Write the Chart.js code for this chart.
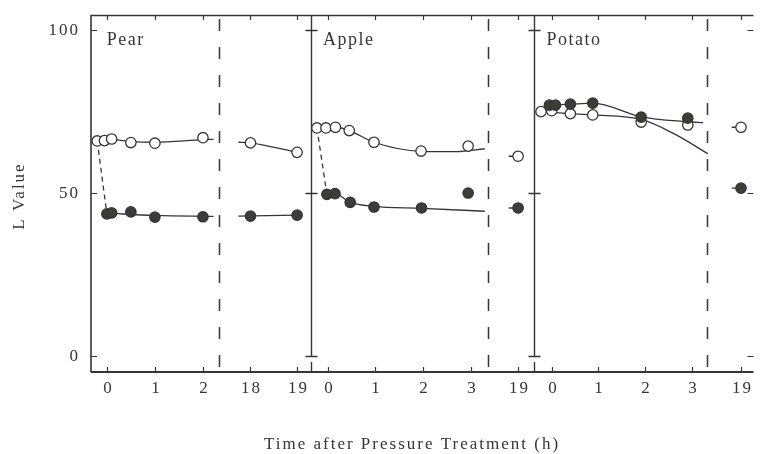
<!DOCTYPE html>
<html>
<head>
<meta charset="utf-8">
<script src="https://cdn.jsdelivr.net/npm/chart.js@4.4.1/dist/chart.umd.min.js"></script>
<style>
  body { margin: 0; background: #fff; }
  canvas { display: block; }
</style>
</head>
<body>
<canvas id="chart" width="760" height="454"></canvas>
<script>
// panels and their x tick hours
const panelNames = ["Pear", "Apple", "Potato"];
const pearTickHours = [0, 1, 2, 18, 19];
const appleTickHours = [0, 1, 2, 3, 19];
const potatoTickHours = [0, 1, 2, 3, 19];
const yTickValues = [0, 50, 100];

// Pear
const pearOpenT = [-0.2, -0.05, 0.1, 0.5, 1, 2, 18, 19];
const pearOpenL = [66.0, 66.1, 66.6, 65.5, 65.3, 67.0, 65.4, 62.5];
const pearFilledT = [0.0, 0.1, 0.5, 1, 2, 18, 19];
const pearFilledL = [43.6, 43.9, 44.2, 42.6, 42.7, 42.9, 43.2];
const pearOpenFitT = [-0.2, 0.1, 0.5, 1, 2, 2.22];
const pearOpenFitL = [66.0, 66.4, 65.8, 65.6, 66.4, 66.5];
const pearOpenLateFitT = [17.74, 18, 19];
const pearOpenLateFitL = [65.6, 65.4, 62.5];
const pearFilledFitT = [0.0, 1, 2.22];
const pearFilledFitL = [43.8, 43.1, 42.8];
const pearFilledLateFitT = [17.74, 19];
const pearFilledLateFitL = [42.9, 43.2];

// Apple
const appleOpenT = [-0.23, -0.04, 0.16, 0.45, 0.97, 1.96, 2.95, 19];
const appleOpenL = [70.0, 70.0, 70.2, 69.2, 65.6, 62.9, 64.4, 61.3];
const appleFilledT = [-0.02, 0.15, 0.47, 0.97, 1.97, 2.95, 19];
const appleFilledL = [49.6, 49.8, 47.1, 45.7, 45.4, 50.0, 45.4];
const appleOpenFitT = [-0.23, 0.16, 0.45, 0.97, 1.96, 2.7, 3.3];
const appleOpenFitL = [70.0, 70.2, 69.2, 65.6, 62.8, 62.7, 63.6];
const appleFilledFitT = [-0.02, 0.15, 0.47, 0.97, 1.97, 3.3];
const appleFilledFitL = [49.6, 49.8, 47.1, 45.9, 45.3, 44.4];

// Potato
const potatoOpenT = [-0.23, 0.0, 0.4, 0.88, 1.92, 2.92, 19];
const potatoOpenL = [75.0, 75.3, 74.4, 74.0, 71.8, 70.9, 70.2];
const potatoFilledT = [-0.05, 0.08, 0.4, 0.88, 1.92, 2.92, 19];
const potatoFilledL = [77.0, 77.0, 77.3, 77.6, 73.3, 73.0, 51.5];
const potatoOpenFitT = [-0.23, 0.4, 0.88, 1.92, 2.6, 3.35];
const potatoOpenFitL = [75.0, 74.4, 74.0, 72.6, 68.4, 62.1];
const potatoFilledFitT = [-0.05, 0.4, 0.88, 1.92, 2.92, 3.25];
const potatoFilledFitL = [77.0, 77.3, 77.6, 73.4, 71.9, 71.6];

// broken time axis: where 0 h and 19 h of each panel sit on the axis
const hourStart = [0, 4.6, 9.26];
const hourStep = [1, 0.99, 0.97];
const lateAt19 = [3.96, 8.56, 13.2];
const panelDividers = [4.25, 8.9];
const breakLines = [2.33, 7.94, 12.5];

function pos(p, t) {
  return t > 10 ? lateAt19[p] + (t - 19) * 0.97 : hourStart[p] + t * hourStep[p];
}
function pts(p, ts, ls) {
  return ts.map((t, i) => ({ x: pos(p, t), y: ls[i] }));
}

const ink = "#353532";
const dotFill = "#3b3d36";

function markers(p, ts, ls, filled) {
  return {
    data: pts(p, ts, ls),
    showLine: false,
    pointRadius: 5.2,
    pointBackgroundColor: filled ? dotFill : "#ffffff",
    pointBorderColor: ink,
    pointBorderWidth: 1.3,
    order: filled ? 0 : 1,
  };
}
function curve(p, ts, ls, dashed) {
  return {
    data: pts(p, ts, ls),
    showLine: true,
    pointRadius: 0,
    borderColor: ink,
    borderWidth: 1.3,
    borderDash: dashed ? [5, 4] : [],
    cubicInterpolationMode: "monotone",
    order: 2,
  };
}

const datasets = [
  markers(0, pearFilledT, pearFilledL, true),
  markers(1, appleFilledT, appleFilledL, true),
  markers(2, potatoFilledT, potatoFilledL, true),
  markers(0, pearOpenT, pearOpenL, false),
  markers(1, appleOpenT, appleOpenL, false),
  markers(2, potatoOpenT, potatoOpenL, false),
  curve(0, pearOpenFitT, pearOpenFitL),
  curve(0, pearOpenLateFitT, pearOpenLateFitL),
  curve(0, pearFilledFitT, pearFilledFitL),
  curve(0, pearFilledLateFitT, pearFilledLateFitL),
  curve(0, [pearOpenT[0], pearFilledT[0]], [pearOpenL[0], pearFilledL[0]], true),
  curve(1, appleOpenFitT, appleOpenFitL),
  curve(1, appleFilledFitT, appleFilledFitL),
  curve(1, [appleOpenT[0], appleFilledT[0]], [appleOpenL[0], appleFilledL[0]], true),
  curve(1, [18.8, 19], [61.3, 61.3]),
  curve(1, [18.8, 19], [45.4, 45.4]),
  curve(2, potatoOpenFitT, potatoOpenFitL),
  curve(2, potatoFilledFitT, potatoFilledFitL),
  curve(2, [18.8, 19], [70.2, 70.2]),
  curve(2, [18.8, 19], [51.5, 51.5]),
];

const tickHours = [pearTickHours, appleTickHours, potatoTickHours];

const framePlugin = {
  id: "frame",
  beforeDatasetsDraw(chart) {
    const { ctx, chartArea: a, scales: { x, y } } = chart;
    ctx.save();
    ctx.strokeStyle = ink;
    ctx.fillStyle = ink;

    // frame
    ctx.lineWidth = 1.6;
    ctx.beginPath();
    ctx.moveTo(a.right, a.top + 0.5); ctx.lineTo(a.left, a.top + 0.5);
    ctx.lineTo(a.left, a.bottom);
    ctx.stroke();
    ctx.lineWidth = 2;
    ctx.beginPath();
    ctx.moveTo(a.left, a.bottom); ctx.lineTo(a.right, a.bottom);
    ctx.stroke();

    // x ticks and labels
    ctx.lineWidth = 1.2;
    ctx.font = "17px 'Liberation Serif'";
    ctx.letterSpacing = "2px";
    ctx.textAlign = "center";
    ctx.textBaseline = "middle";
    tickHours.forEach((hours, p) => {
      hours.forEach(h => {
        const px = Math.round(x.getPixelForValue(pos(p, h))) + 0.5;
        ctx.beginPath();
        ctx.moveTo(px, a.bottom); ctx.lineTo(px, a.bottom - 5);
        ctx.moveTo(px, a.top); ctx.lineTo(px, a.top + 5);
        ctx.stroke();
        ctx.fillText(String(h), px + 1, a.bottom + 17);
      });
    });

    // y ticks and labels
    ctx.textAlign = "right";
    yTickValues.forEach(v => {
      const py = Math.round(y.getPixelForValue(v)) + 0.5;
      ctx.beginPath();
      ctx.moveTo(a.left, py); ctx.lineTo(a.left + 6, py);
      ctx.moveTo(a.right, py); ctx.lineTo(a.right - 6, py);
      ctx.stroke();
      ctx.fillText(String(v), a.left - 11, py);
    });

    // panel dividers with their own value ticks
    ctx.lineWidth = 1.4;
    panelDividers.forEach(d => {
      const px = Math.round(x.getPixelForValue(d)) + 0.5;
      ctx.beginPath();
      ctx.moveTo(px, a.top); ctx.lineTo(px, y.getPixelForValue(0));
      ctx.moveTo(px, a.bottom); ctx.lineTo(px, a.bottom - 10);
      yTickValues.forEach(v => {
        const py = Math.round(y.getPixelForValue(v)) + 0.5;
        ctx.moveTo(px - 6, py); ctx.lineTo(px + 6, py);
      });
      ctx.stroke();
    });

    // axis breaks
    ctx.setLineDash([12, 16]);
    ctx.lineWidth = 1.5;
    breakLines.forEach(b => {
      const px = Math.round(x.getPixelForValue(b)) + 0.5;
      ctx.beginPath();
      ctx.moveTo(px, a.top + 4); ctx.lineTo(px, a.bottom);
      ctx.stroke();
    });
    ctx.setLineDash([]);

    // panel names
    ctx.font = "18px 'Liberation Serif'";
    ctx.letterSpacing = "1.5px";
    ctx.textAlign = "left";
    panelNames.forEach((name, p) => {
      const px = x.getPixelForValue(p === 0 ? hourStart[p] : panelDividers[p - 1]) + (p === 0 ? 0 : 12);
      ctx.fillText(name, px, y.getPixelForValue(97));
    });

    // axis titles
    ctx.font = "17px 'Liberation Serif'";
    ctx.letterSpacing = "2px";
    ctx.textAlign = "center";
    ctx.fillText("Time after Pressure Treatment (h)", 412, 445);
    ctx.translate(20, 196);
    ctx.rotate(-Math.PI / 2);
    ctx.fillText("L Value", 0, 0);
    ctx.restore();
  },
};

new Chart(document.getElementById("chart"), {
  type: "scatter",
  data: { datasets },
  options: {
    responsive: false,
    animation: false,
    layout: { padding: { left: 91, top: 15, right: 0, bottom: 82 } },
    scales: {
      x: { type: "linear", min: -0.33, max: 13.46, display: false },
      y: { min: -5, max: 104.7, display: false },
    },
    plugins: { legend: { display: false }, tooltip: { enabled: false } },
  },
  plugins: [framePlugin],
});
</script>
</body>
</html>
